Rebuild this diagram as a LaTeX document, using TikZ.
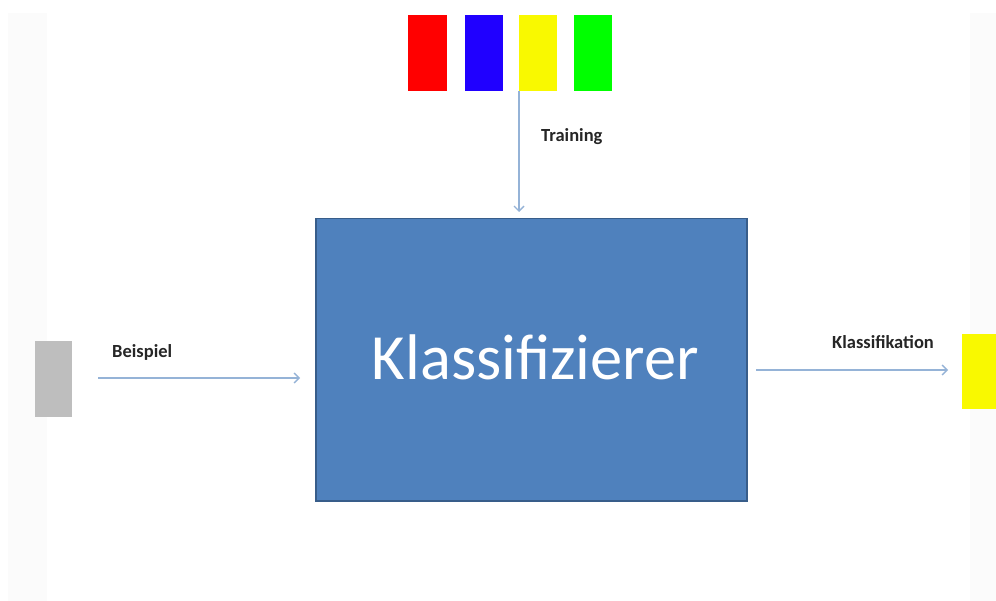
\documentclass[tikz,border=0pt]{standalone}
\usepackage{fontspec}
\setmainfont{Carlito}
\usetikzlibrary{arrows.meta}
\definecolor{boxfill}{HTML}{4F81BD}
\definecolor{boxline}{HTML}{385D8A}
\definecolor{flow}{HTML}{95B3D7}
\definecolor{sample}{HTML}{BEBEBE}
\definecolor{cred}{HTML}{FF0000}
\definecolor{cblue}{HTML}{2000FF}
\definecolor{cyellow}{HTML}{F9F900}
\definecolor{cgreen}{HTML}{00FF00}
\definecolor{margin}{HTML}{FBFBFB}
\tikzset{
  chip/.style={draw=none, minimum width=#1, inner sep=0pt, anchor=north west},
  flowarrow/.style={draw=flow, line width=1.4pt, -{Straight Barb[length=5pt,width=10pt,line width=1.4pt]}},
  lbl/.style={font=\fontsize{18.5}{22}\selectfont\bfseries, text=black!85, inner sep=0pt}
}
\begin{document}
\begin{tikzpicture}[x=1pt,y=-1pt]
  \useasboundingbox[fill=white] (0,0) rectangle (996,601);
  % faint side panels
  \fill[margin] (8,13) rectangle (47,601);
  \fill[margin] (970,13) rectangle (996,601);

  % training samples
  \node[chip=39pt, minimum height=76pt, fill=cred]    (r) at (408,15) {};
  \node[chip=38pt, minimum height=76pt, fill=cblue]   (b) at (465,15) {};
  \node[chip=38pt, minimum height=76pt, fill=cyellow] (y) at (519,15) {};
  \node[chip=38pt, minimum height=76pt, fill=cgreen]  (g) at (574,15) {};

  % classifier
  \node[chip=431pt, minimum height=282pt, fill=boxfill, draw=boxline, line width=1.5pt] (clf) at (315,218) {};
  \node[font=\fontsize{64.5}{68}\selectfont, text=white, inner sep=0pt] (clft) at (535.5,357) {Klassifizierer};

  % input sample and output class
  \node[chip=37pt, minimum height=76pt, fill=sample] (in) at (35,341) {};
  \node[chip=40pt, minimum height=75pt, fill=cyellow] (out) at (962,334) {};

  % connectors
  \coordinate (tin) at (519,91);
  \coordinate (tend) at (519,212);
  \draw[flowarrow] (tin) -- (tend);
  \coordinate (bin) at (98,378);
  \coordinate (bend) at (300,378);
  \draw[flowarrow] (bin) -- (bend);
  \coordinate (kin) at (756,370);
  \coordinate (kend) at (948,370);
  \draw[flowarrow] (kin) -- (kend);

  % labels
  \node[lbl, anchor=west] (lt) at (541,137) {Training};
  \node[lbl, anchor=west] (lb) at (112,352) {Beispiel};
  \node[lbl, anchor=west] (lk) at (832,342) {Klassifikation};
\end{tikzpicture}
\end{document}
